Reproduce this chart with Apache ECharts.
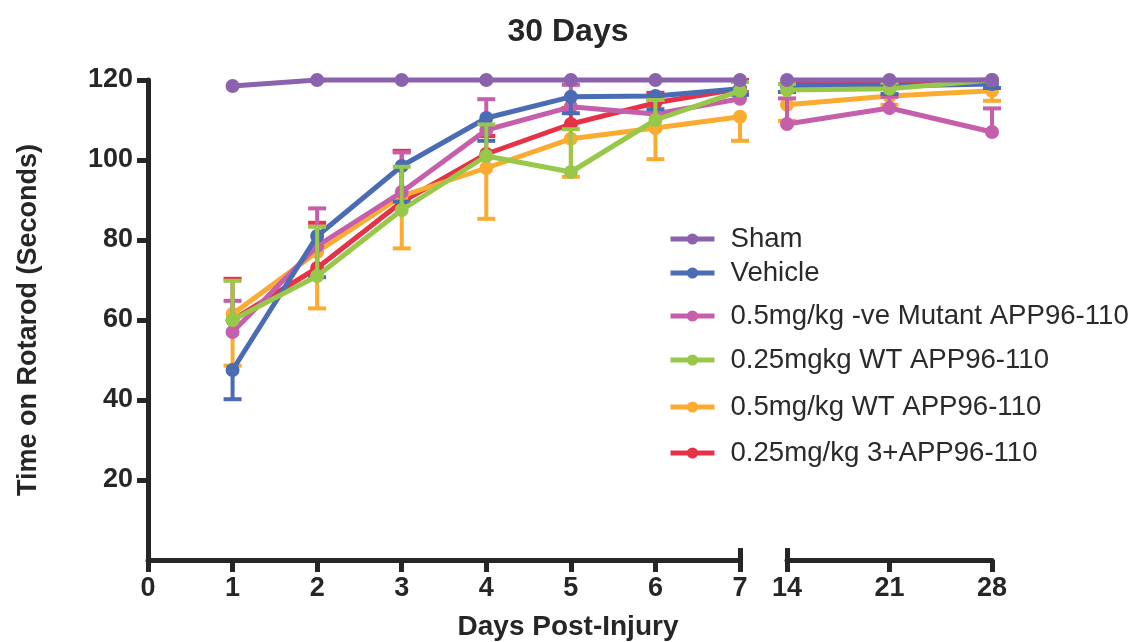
<!DOCTYPE html>
<html>
<head>
<meta charset="utf-8">
<script src="https://cdn.jsdelivr.net/npm/echarts@6/dist/echarts.min.js"></script>
<style>
  html, body { margin: 0; padding: 0; background: #ffffff; }
  #chart { width: 1136px; height: 642px; }
</style>
</head>
<body>
<div id="chart"></div>
<script>
// Test days: the first week is drawn on one axis, the later visits on a second one after the break
const earlyDays = [1, 2, 3, 4, 5, 6, 7];
const lateDays = [14, 21, 28];
const earlyTicks = [0, 1, 2, 3, 4, 5, 6, 7];
const lateTicks = [14, 21, 28];
const yTicks = [20, 40, 60, 80, 100, 120];

const groupNames = [
  'Sham',
  'Vehicle',
  '0.5mg/kg -ve Mutant APP96-110',
  '0.25mgkg WT APP96-110',
  '0.5mg/kg WT APP96-110',
  '0.25mg/kg 3+APP96-110'
];
const groupColors = ['#8a62ae', '#4a6cb4', '#c65fab', '#98c84a', '#fbab2f', '#e63247'];

// Mean time on rotarod (s), days 1-7 then 14, 21, 28
const shamMean     = [118.5, 120, 120, 120, 120, 120, 120, 120, 120, 120];
const vehicleMean  = [47.5, 81, 98.5, 110.5, 115.8, 116, 117.8, 118.5, 118.5, 119];
const mutantMean   = [57, 78.5, 92, 107.5, 113.3, 111.5, 115.3, 109, 113, 107];
const wtLowMean    = [60, 71, 87.5, 101, 97, 110, 117.3, 117.5, 117.8, 120];
const wtHighMean   = [61.5, 77, 91, 98, 105.3, 108, 110.8, 113.8, 116, 117.3];
const tripleMean   = [60, 73, 89.5, 101.5, 109, 114.3, 117.8, 119, 119.3, 120];

// Value at the end of each one-sided error bar (null where no bar is drawn)
const shamCap     = [null, null, null, null, null, null, null, null, null, null];
const vehicleCap  = [40.2, 70.7, 89.6, 104.8, 111.7, 112.7, 116.3, 117, 116.5, 118];
const mutantCap   = [64.8, 87.9, 101.9, 115.2, 118.8, 115, 117, 115.4, 115.8, 112.9];
const wtLowCap    = [69.8, 83.3, 98.3, 108.9, 107.7, 115, 119.5, 119, 119.3, null];
const wtHighCap   = [48.6, 62.9, 77.9, 85.3, 95.8, 100.2, 104.8, 109.8, 113.8, 114.8];
const tripleCap   = [70.3, 84.3, 102.3, 106, 113, 116.8, 120, null, null, null];

const groupMeans = [shamMean, vehicleMean, mutantMean, wtLowMean, wtHighMean, tripleMean];
const groupCaps = [shamCap, vehicleCap, mutantCap, wtLowCap, wtHighCap, tripleCap];
// Drawing order (higher is drawn on top)
const groupRank = [5, 3, 2, 4, 1, 0];
// Vertical centre of each legend row
const legendRows = [239, 273, 316, 360, 407, 453];

const FONT = "'Liberation Sans', Arial, Helvetica, sans-serif";
const INK = '#262626';

const chart = echarts.init(document.getElementById('chart'), null, { renderer: 'canvas' });

function errorBarRender(color) {
  return function (params, api) {
    const x = api.value(0);
    const p1 = api.coord([x, api.value(1)]);
    const p2 = api.coord([x, api.value(2)]);
    const half = 9;
    return {
      type: 'group',
      children: [
        { type: 'line', shape: { x1: p1[0], y1: p1[1], x2: p2[0], y2: p2[1] },
          style: { stroke: color, lineWidth: 4 } },
        { type: 'line', shape: { x1: p2[0] - half, y1: p2[1], x2: p2[0] + half, y2: p2[1] },
          style: { stroke: color, lineWidth: 4 } }
      ]
    };
  };
}

const lineSeries = [];
const barSeries = [];
groupNames.forEach(function (name, g) {
  const color = groupColors[g];
  const z = groupRank[g] * 2 + 3;
  const segments = [
    { days: earlyDays, offset: 0, axis: 0 },
    { days: lateDays, offset: earlyDays.length, axis: 2 }
  ];
  segments.forEach(function (seg) {
    const pts = seg.days.map(function (d, i) { return [d, groupMeans[g][seg.offset + i]]; });
    const bars = [];
    seg.days.forEach(function (d, i) {
      const c = groupCaps[g][seg.offset + i];
      if (c !== null) bars.push([d, groupMeans[g][seg.offset + i], c]);
    });
    lineSeries.push({
      type: 'line',
      name: name,
      xAxisIndex: seg.axis,
      yAxisIndex: seg.axis === 0 ? 0 : 1,
      data: pts,
      symbol: 'circle',
      symbolSize: 14,
      showSymbol: true,
      clip: false,
      color: color,
      itemStyle: { color: color },
      lineStyle: { color: color, width: 5 },
      emphasis: { disabled: true },
      z: z
    });
    barSeries.push({
      type: 'custom',
      xAxisIndex: seg.axis,
      yAxisIndex: seg.axis === 0 ? 0 : 1,
      renderItem: errorBarRender(color),
      encode: { x: 0, y: [1, 2] },
      data: bars,
      itemStyle: { color: color },
      clip: false,
      silent: true,
      z: z - 1
    });
  });
});

const axisLineStyle = { color: INK, width: 5 };
const tickLabel = { color: INK, fontSize: 27, fontWeight: 'bold', fontFamily: FONT };

const option = {
  animation: false,
  backgroundColor: '#ffffff',
  title: [
    { text: '30 Days', left: 'center', top: 11,
      textStyle: { fontSize: 32, fontWeight: 'bold', color: INK, fontFamily: FONT } },
    { text: 'Days Post-Injury', left: 'center', top: 608,
      textStyle: { fontSize: 28, fontWeight: 'bold', color: INK, fontFamily: FONT } }
  ],
  legend: groupNames.map(function (name, g) {
    return {
      data: [name],
      left: 668,
      top: legendRows[g] - 14,
      padding: 0,
      itemWidth: 44,
      itemHeight: 14,
      itemGap: 0,
      selectedMode: false,
      lineStyle: { width: 5 },
      textStyle: { fontSize: 27.6, color: '#2a2a2a', fontFamily: FONT, padding: [0, 0, 0, 11] }
    };
  }),
  grid: [
    { left: 148, top: 80, width: 592, height: 480 },
    { left: 787, top: 80, width: 205, height: 480 }
  ],
  xAxis: [
    { type: 'value', gridIndex: 0, position: 'bottom', min: 0, max: 7, interval: 1,
      axisLine: { show: true, lineStyle: axisLineStyle },
      axisTick: { show: true, length: 12, lineStyle: axisLineStyle, customValues: earlyTicks },
      axisLabel: Object.assign({ margin: 15, customValues: earlyTicks }, tickLabel),
      splitLine: { show: false } },
    { type: 'value', gridIndex: 0, position: 'bottom', min: 0, max: 7, interval: 1,
      axisLine: { show: false },
      axisTick: { show: true, inside: true, length: 12, lineStyle: axisLineStyle, customValues: [7] },
      axisLabel: { show: false },
      splitLine: { show: false } },
    { type: 'value', gridIndex: 1, position: 'bottom', min: 14, max: 28, interval: 7,
      axisLine: { show: true, lineStyle: axisLineStyle },
      axisTick: { show: true, length: 12, lineStyle: axisLineStyle, customValues: lateTicks },
      axisLabel: Object.assign({ margin: 15, customValues: lateTicks }, tickLabel),
      splitLine: { show: false } },
    { type: 'value', gridIndex: 1, position: 'bottom', min: 14, max: 28, interval: 7,
      axisLine: { show: false },
      axisTick: { show: true, inside: true, length: 12, lineStyle: axisLineStyle, customValues: [14] },
      axisLabel: { show: false },
      splitLine: { show: false } }
  ],
  yAxis: [
    { type: 'value', gridIndex: 0, min: 0, max: 120, interval: 20,
      name: 'Time on Rotarod (Seconds)', nameLocation: 'middle', nameGap: 106, nameRotate: 90,
      nameTextStyle: { fontSize: 27, fontWeight: 'bold', color: INK, fontFamily: FONT },
      axisLine: { show: true, lineStyle: axisLineStyle },
      axisTick: { show: true, length: 11, lineStyle: axisLineStyle, customValues: yTicks },
      axisLabel: Object.assign({ margin: 15, customValues: yTicks }, tickLabel),
      splitLine: { show: false } },
    { type: 'value', gridIndex: 1, min: 0, max: 120, interval: 20, show: false,
      splitLine: { show: false } }
  ],
  series: lineSeries.concat(barSeries)
};

chart.setOption(option);
</script>
</body>
</html>
